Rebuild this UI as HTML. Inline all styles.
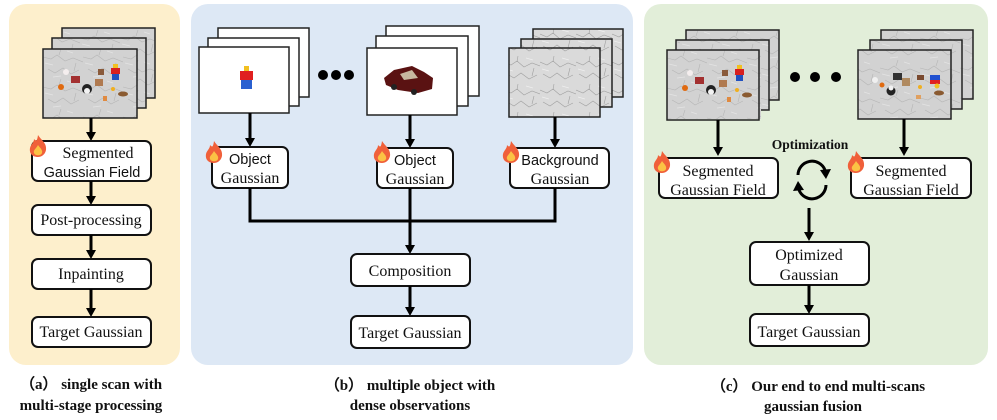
<!DOCTYPE html>
<html><head><meta charset="utf-8"><style>
html,body{margin:0;padding:0;background:#fff;}
svg{display:block;}
.s{font-family:"Liberation Serif",serif;font-size:16px;fill:#111;}
.ss{font-family:"Liberation Sans",sans-serif;font-size:14.5px;fill:#111;}
.cap{font-family:"Liberation Serif",serif;font-size:15px;font-weight:bold;fill:#111;}
.bx{fill:#fff;stroke:#111;stroke-width:2;}
.fr{stroke:#222;stroke-width:1.5;}
.ln{stroke:#000;stroke-width:3;fill:none;}
</style></head><body>
<svg width="997" height="420" viewBox="0 0 997 420" xmlns="http://www.w3.org/2000/svg">
<defs>
<pattern id="tex" width="40" height="30" patternUnits="userSpaceOnUse">
<rect width="40" height="30" fill="#d2d2d2"/>
<path d="M0 8 L8 10 L14 6 L22 12 L30 9 L40 13 M5 20 L12 24 L20 19 L28 25 L36 21 M18 0 L16 6 M33 14 L31 22" stroke="#b6b6b6" stroke-width="0.6" fill="none"/>
<path d="M2 14 L10 16 M24 2 L30 4 M10 28 L18 27" stroke="#e4e4e4" stroke-width="0.8"/>
</pattern>
<pattern id="tex2" width="36" height="28" patternUnits="userSpaceOnUse">
<rect width="36" height="28" fill="#dadada"/>
<path d="M0 6 L7 9 L13 5 L20 11 L28 7 L36 10 M3 18 L10 22 L17 17 L25 23 L33 19 M14 0 L13 6 M30 12 L28 20" stroke="#a0a0a0" stroke-width="0.6" fill="none"/>
<path d="M2 13 L9 15 M22 2 L29 4" stroke="#eeeeee" stroke-width="0.8"/>
</pattern>
<g id="fire">
<path d="M9 0 C12 5,18 8,17 15 C16 20,12 22,9 22 C4 22,0 19,1 13 C2 9,5 8,5 4 C7 6,8 7,9 0Z" fill="#f0603a"/>
<path d="M9 10 C11 13,14 15,13 18 C12 21,6 21,5 18 C4 15,7 14,9 10Z" fill="#fbc244"/>
</g>
<g id="scene">
<rect x="0" y="0" width="94" height="69" fill="url(#tex)"/>
<circle cx="23" cy="23" r="3" fill="#f4eeee"/>
<rect x="28" y="27" width="9" height="7" fill="#a33030"/>
<circle cx="18" cy="38" r="3" fill="#e06a10"/>
<circle cx="44" cy="40" r="5" fill="#222"/><circle cx="44" cy="42" r="3" fill="#f2f2f2"/>
<rect x="52" y="30" width="8" height="7" fill="#b07a50"/>
<rect x="55" y="20" width="6" height="6" fill="#8a5a3a"/>
<rect x="70" y="15" width="5" height="4" fill="#f2c020"/>
<rect x="68" y="19" width="9" height="6" fill="#d82020"/>
<rect x="69" y="25" width="7" height="6" fill="#2050c0"/>
<circle cx="70" cy="40" r="2" fill="#f0b020"/>
<rect x="60" y="47" width="4" height="5" fill="#e08a40"/>
<ellipse cx="80" cy="45" rx="5" ry="2.5" fill="#8a5a30"/>
</g>
</defs>

<rect x="9" y="4" width="171" height="361" rx="17" fill="#fdefcc"/>
<rect x="191" y="4" width="442" height="361" rx="17" fill="#dde8f5"/>
<rect x="644" y="4" width="344" height="361" rx="17" fill="#e2eed9"/>

<!-- Panel a -->
<rect x="62" y="28" width="93" height="70" fill="url(#tex)" class="fr"/>
<rect x="52" y="38" width="94" height="70" fill="url(#tex)" class="fr"/>
<use href="#scene" x="43" y="49"/>
<rect x="43" y="49" width="94" height="69" fill="none" class="fr"/>

<line x1="91" y1="118" x2="91" y2="133" class="ln"/><polygon points="86,132 96,132 91,141" fill="#000"/>
<rect x="32" y="141" width="119" height="40" rx="6" class="bx"/>
<use href="#fire" x="29" y="135"/>
<text x="98" y="158" class="s" text-anchor="middle">Segmented</text>
<text x="92" y="177" class="ss" text-anchor="middle">Gaussian Field</text>
<line x1="91" y1="181" x2="91" y2="197" class="ln"/><polygon points="86,196 96,196 91,205" fill="#000"/>
<rect x="32" y="205" width="119" height="30" rx="6" class="bx"/>
<text x="91" y="225" class="s" text-anchor="middle">Post-processing</text>
<line x1="91" y1="235" x2="91" y2="251" class="ln"/><polygon points="86,250 96,250 91,259" fill="#000"/>
<rect x="32" y="259" width="119" height="30" rx="6" class="bx"/>
<text x="91" y="279" class="s" text-anchor="middle">Inpainting</text>
<line x1="91" y1="289" x2="91" y2="309" class="ln"/><polygon points="86,308 96,308 91,317" fill="#000"/>
<rect x="32" y="317" width="119" height="30" rx="6" class="bx"/>
<text x="91" y="337" class="s" text-anchor="middle">Target Gaussian</text>
<text x="91" y="389" class="cap" text-anchor="middle">（a） single scan with</text>
<text x="91" y="410" class="cap" text-anchor="middle">multi-stage processing</text>

<!-- Panel b -->
<rect x="218" y="28" width="91" height="69" fill="#fff" class="fr"/>
<rect x="208" y="38" width="91" height="68" fill="#fff" class="fr"/>
<rect x="199" y="47" width="90" height="66" fill="#fff" class="fr"/>
<rect x="244" y="66" width="5" height="5" fill="#f2c020"/>
<rect x="240" y="71" width="13" height="9" fill="#e02020"/>
<rect x="241" y="80" width="11" height="9" fill="#2a60d0"/>
<circle cx="323" cy="75" r="5" fill="#000"/><circle cx="336" cy="75" r="5" fill="#000"/><circle cx="349" cy="75" r="5" fill="#000"/>
<rect x="386" y="26" width="93" height="70" fill="#fff" class="fr"/>
<rect x="376" y="36" width="92" height="70" fill="#fff" class="fr"/>
<rect x="367" y="48" width="90" height="67" fill="#fff" class="fr"/>
<path d="M384 78 L394 70 L412 66 L424 72 L433 78 L432 89 L418 93 L398 90 L386 85Z" fill="#5a1212"/>
<path d="M400 74 L412 70 L418 78 L404 80Z" fill="#c8b8a0"/>
<circle cx="394" cy="87" r="3" fill="#222"/><circle cx="414" cy="92" r="3" fill="#222"/>
<rect x="533" y="29" width="90" height="68" fill="url(#tex2)" class="fr"/>
<rect x="521" y="39" width="91" height="68" fill="url(#tex2)" class="fr"/>
<rect x="509" y="48" width="91" height="69" fill="url(#tex2)" class="fr"/>

<line x1="250" y1="113" x2="250" y2="139" class="ln"/><polygon points="245,138 255,138 250,147" fill="#000"/>
<line x1="410" y1="115" x2="410" y2="140" class="ln"/><polygon points="405,139 415,139 410,148" fill="#000"/>
<line x1="555" y1="117" x2="555" y2="140" class="ln"/><polygon points="550,139 560,139 555,148" fill="#000"/>
<rect x="212" y="147" width="76" height="41" rx="6" class="bx"/>
<use href="#fire" x="205" y="141"/>
<text x="250" y="164" class="ss" text-anchor="middle">Object</text>
<text x="250" y="183" class="s" text-anchor="middle">Gaussian</text>
<rect x="377" y="148" width="76" height="40" rx="6" class="bx"/>
<use href="#fire" x="373" y="141"/>
<text x="415" y="165" class="ss" text-anchor="middle">Object</text>
<text x="415" y="184" class="s" text-anchor="middle">Gaussian</text>
<rect x="510" y="148" width="99" height="40" rx="6" class="bx"/>
<use href="#fire" x="502" y="141"/>
<text x="560" y="165" class="ss" text-anchor="middle">Background</text>
<text x="560" y="184" class="s" text-anchor="middle">Gaussian</text>
<polyline points="250,188 250,221 555,221 555,188" class="ln"/>
<line x1="410" y1="188" x2="410" y2="246" class="ln"/><polygon points="405,245 415,245 410,254" fill="#000"/>
<rect x="351" y="254" width="119" height="32" rx="6" class="bx"/>
<text x="410" y="276" class="s" text-anchor="middle">Composition</text>
<line x1="410" y1="286" x2="410" y2="308" class="ln"/><polygon points="405,307 415,307 410,316" fill="#000"/>
<rect x="351" y="316" width="119" height="32" rx="6" class="bx"/>
<text x="410" y="338" class="s" text-anchor="middle">Target Gaussian</text>
<text x="410" y="390" class="cap" text-anchor="middle">（b） multiple object with</text>
<text x="410" y="410" class="cap" text-anchor="middle">dense observations</text>

<!-- Panel c -->
<rect x="686" y="30" width="93" height="70" fill="url(#tex)" class="fr"/>
<rect x="676" y="40" width="93" height="70" fill="url(#tex)" class="fr"/>
<use href="#scene" x="667" y="50"/>
<rect x="667" y="50" width="92" height="70" fill="none" class="fr"/>
<circle cx="795" cy="77" r="5" fill="#000"/><circle cx="815" cy="77" r="5" fill="#000"/><circle cx="836" cy="77" r="5" fill="#000"/>
<rect x="881" y="30" width="92" height="69" fill="url(#tex)" class="fr"/>
<rect x="870" y="40" width="92" height="69" fill="url(#tex)" class="fr"/>
<rect x="858" y="50" width="93" height="69" fill="url(#tex)" class="fr"/>
<rect x="893" y="73" width="9" height="7" fill="#333"/>
<rect x="902" y="78" width="8" height="8" fill="#b08a60"/>
<circle cx="875" cy="80" r="3" fill="#f0f0f0"/><circle cx="882" cy="85" r="2.5" fill="#e06a10"/>
<circle cx="891" cy="91" r="4.5" fill="#222"/><circle cx="891" cy="88" r="2.5" fill="#f2f2f2"/>
<rect x="917" y="75" width="7" height="5" fill="#7a4a30"/>
<rect x="930" y="75" width="10" height="5" fill="#2050d0"/><rect x="930" y="80" width="10" height="4" fill="#e02020"/>
<circle cx="937" cy="86" r="2.5" fill="#f2c020"/><circle cx="920" cy="87" r="2" fill="#f0b020"/>
<rect x="916" y="95" width="5" height="4" fill="#e0a060"/>
<ellipse cx="939" cy="93" rx="5" ry="2.5" fill="#8a5a30"/>

<line x1="718" y1="120" x2="718" y2="148" class="ln"/><polygon points="713,147 723,147 718,156" fill="#000"/>
<line x1="904" y1="119" x2="904" y2="148" class="ln"/><polygon points="899,147 909,147 904,156" fill="#000"/>
<rect x="659" y="158" width="119" height="40" rx="6" class="bx"/>
<use href="#fire" x="653" y="151"/>
<text x="718" y="176" class="s" text-anchor="middle">Segmented</text>
<text x="718" y="195" class="s" text-anchor="middle">Gaussian Field</text>
<rect x="851" y="158" width="120" height="40" rx="6" class="bx"/>
<use href="#fire" x="847" y="151"/>
<text x="911" y="176" class="s" text-anchor="middle">Segmented</text>
<text x="911" y="195" class="s" text-anchor="middle">Gaussian Field</text>
<text x="810" y="149" class="cap" text-anchor="middle" style="font-size:13.5px">Optimization</text>
<path d="M798 175 A14 14 0 0 1 825 170" stroke="#000" stroke-width="3" fill="none"/>
<polygon points="820,170 831,169 826,179" fill="#000"/>
<path d="M826 185 A14 14 0 0 1 799 190" stroke="#000" stroke-width="3" fill="none"/>
<polygon points="804,190 793,191 798,181" fill="#000"/>
<line x1="809" y1="208" x2="809" y2="233" class="ln"/><polygon points="804,232 814,232 809,241" fill="#000"/>
<rect x="750" y="242" width="119" height="43" rx="6" class="bx"/>
<text x="809" y="260" class="s" text-anchor="middle">Optimized</text>
<text x="809" y="280" class="s" text-anchor="middle">Gaussian</text>
<line x1="809" y1="285" x2="809" y2="306" class="ln"/><polygon points="804,305 814,305 809,314" fill="#000"/>
<rect x="750" y="314" width="119" height="32" rx="6" class="bx"/>
<text x="809" y="337" class="s" text-anchor="middle">Target Gaussian</text>
<text x="818" y="391" class="cap" text-anchor="middle">（c） Our end to end multi-scans</text>
<text x="813" y="411" class="cap" text-anchor="middle">gaussian fusion</text>
</svg>
</body></html>
